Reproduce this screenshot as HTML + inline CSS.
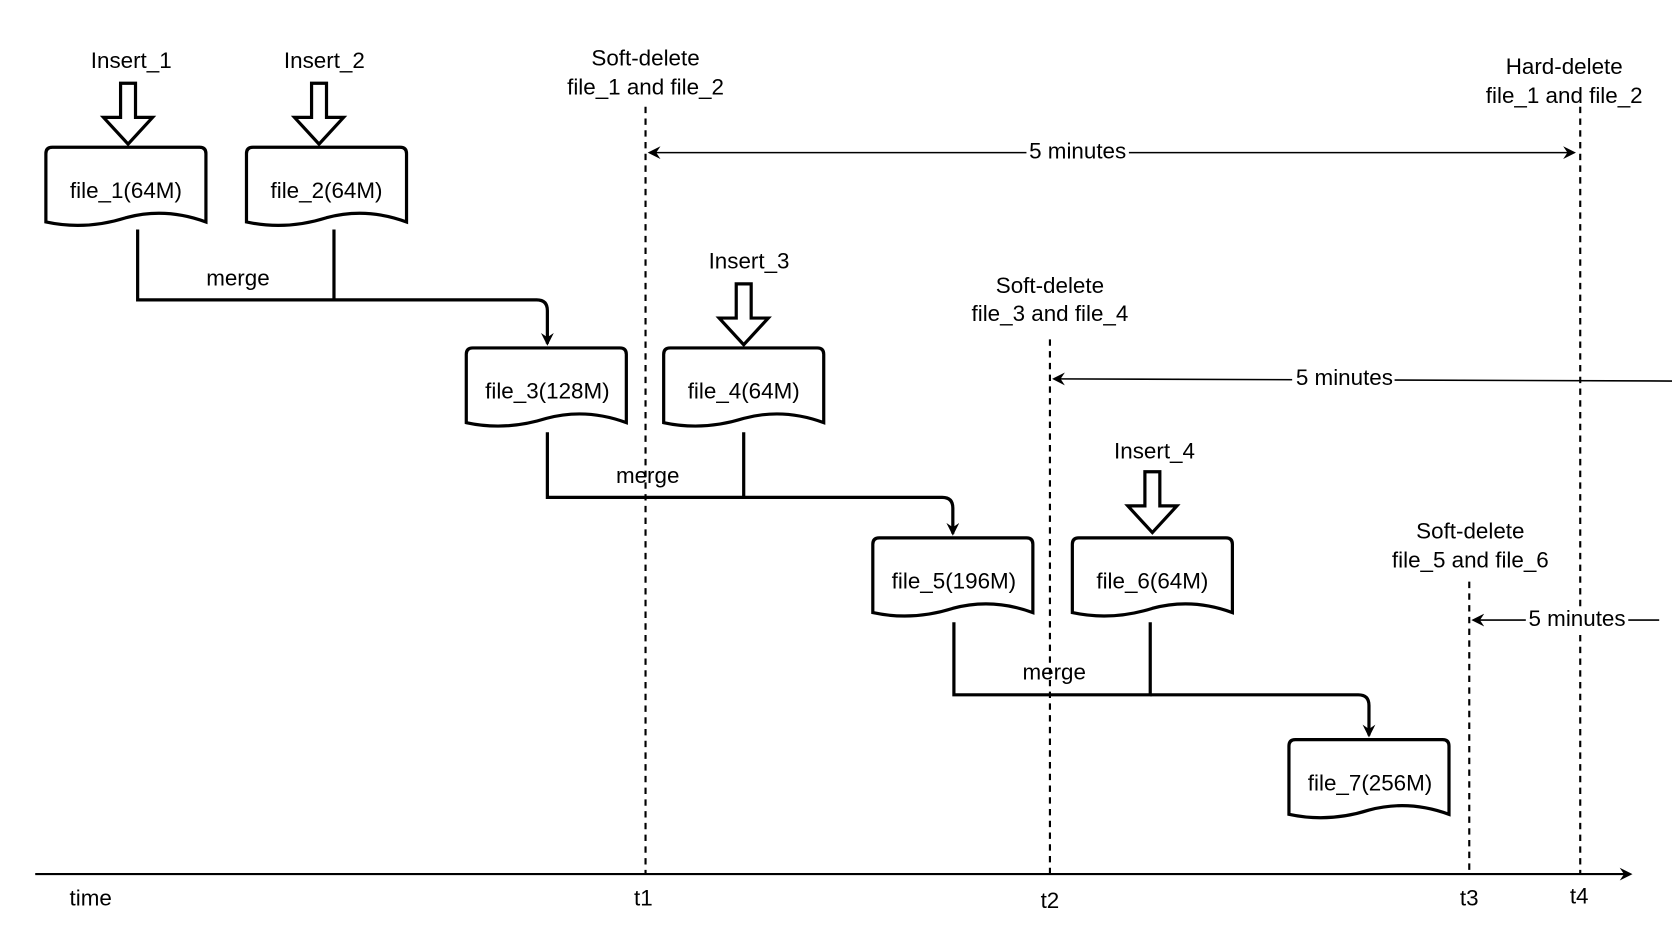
<!DOCTYPE html>
<html><head><style>body{margin:0;background:#fff}svg{display:block}text{font-family:"Liberation Sans",sans-serif;font-size:21px;fill:#000;text-anchor:middle;dominant-baseline:middle}</style></head>
<body>
<svg width="1672" height="936" viewBox="0 0 1567 877" preserveAspectRatio="none" xmlns="http://www.w3.org/2000/svg">
<defs>
<marker id="a" markerWidth="12" markerHeight="12" refX="10" refY="6" orient="auto" markerUnits="userSpaceOnUse"><path d="M0,0 L12,6 L0,12 L4,6 z" fill="#000"/></marker>
<marker id="b" markerWidth="12" markerHeight="12" refX="2" refY="6" orient="auto" markerUnits="userSpaceOnUse"><path d="M12,0 L0,6 L12,12 L8,6 z" fill="#000"/></marker>
</defs>
<g fill="#fff" stroke="#000" stroke-width="3">
<path d="M43,208 L43,144 Q43,138 49,138 L187,138 Q193,138 193,144 L193,208 Q155,194 118,204 Q80,216 43,208 Z"/>
<path d="M231,208 L231,144 Q231,138 237,138 L375,138 Q381,138 381,144 L381,208 Q343,194 306,204 Q268,216 231,208 Z"/>
<path d="M437,396 L437,332 Q437,326 443,326 L581,326 Q587,326 587,332 L587,396 Q549,382 512,392 Q474,404 437,396 Z"/>
<path d="M622,396 L622,332 Q622,326 628,326 L766,326 Q772,326 772,332 L772,396 Q734,382 697,392 Q659,404 622,396 Z"/>
<path d="M818,574 L818,510 Q818,504 824,504 L962,504 Q968,504 968,510 L968,574 Q930,560 893,570 Q855,582 818,574 Z"/>
<path d="M1005,574 L1005,510 Q1005,504 1011,504 L1149,504 Q1155,504 1155,510 L1155,574 Q1117,560 1080,570 Q1042,582 1005,574 Z"/>
<path d="M1208,763 L1208,699 Q1208,693 1214,693 L1352,693 Q1358,693 1358,699 L1358,763 Q1320,749 1283,759 Q1245,771 1208,763 Z"/>
<path d="M113,78 L127,78 L127,110 L143,110 L120,135 L97,110 L113,110 Z"/>
<path d="M292,78 L306,78 L306,110 L322,110 L299,135 L276,110 L292,110 Z"/>
<path d="M690,266 L704,266 L704,298 L720,298 L697,323 L674,298 L690,298 Z"/>
<path d="M1073,442 L1087,442 L1087,474 L1103,474 L1080,499 L1057,474 L1073,474 Z"/>
</g>
<g fill="none" stroke="#000" stroke-width="3">
<path d="M129,215 L129,281 L313,281 L313,215"/>
<path d="M313,281 L503,281 Q513,281 513,291 L513,322" marker-end="url(#a)"/>
<path d="M513,405 L513,466 L697,466 L697,405"/>
<path d="M697,466 L883,466 Q893,466 893,476 L893,500" marker-end="url(#a)"/>
<path d="M894,583 L894,651 L1078,651 L1078,583"/>
<path d="M1078,651 L1273,651 Q1283,651 1283,661 L1283,689" marker-end="url(#a)"/>
</g>
<g stroke="#000" stroke-width="2" stroke-dasharray="6,5">
<line x1="605" y1="100" x2="605" y2="818"/>
<line x1="984" y1="318" x2="984" y2="818"/>
<line x1="1377" y1="545" x2="1377" y2="818"/>
<line x1="1481" y1="100" x2="1481" y2="818"/>
</g>
<line x1="33" y1="819" x2="1528" y2="819" stroke="#000" stroke-width="2" marker-end="url(#a)"/>
<g stroke="#000" stroke-width="1.5">
<line x1="609" y1="143" x2="1475" y2="143" marker-start="url(#b)" marker-end="url(#a)"/>
<line x1="988" y1="355" x2="1567" y2="357" marker-start="url(#b)"/>
<line x1="1381" y1="581" x2="1555" y2="581" marker-start="url(#b)"/>
</g>
<g fill="#fff"><rect x="962" y="132" width="96" height="22"/><rect x="1211" y="344" width="96" height="22"/><rect x="1430" y="570" width="96" height="22"/></g>
<text x="1010" y="143">5 minutes</text>
<text x="1260" y="355">5 minutes</text>
<text x="1478" y="581">5 minutes</text>
<text x="118" y="180">file_1(64M)</text>
<text x="306" y="180">file_2(64M)</text>
<text x="513" y="368">file_3(128M)</text>
<text x="697" y="368">file_4(64M)</text>
<text x="894" y="546">file_5(196M)</text>
<text x="1080" y="546">file_6(64M)</text>
<text x="1284" y="735">file_7(256M)</text>
<text x="123" y="58">Insert_1</text>
<text x="304" y="58">Insert_2</text>
<text x="702" y="246">Insert_3</text>
<text x="1082" y="424">Insert_4</text>
<text x="223" y="262">merge</text>
<text x="607" y="447">merge</text>
<text x="988" y="631">merge</text>
<text x="605" y="56">Soft-delete</text>
<text x="605" y="83">file_1 and file_2</text>
<text x="1466" y="64">Hard-delete</text>
<text x="1466" y="91">file_1 and file_2</text>
<text x="984" y="269">Soft-delete</text>
<text x="984" y="295">file_3 and file_4</text>
<text x="1378" y="499">Soft-delete</text>
<text x="1378" y="526">file_5 and file_6</text>
<text x="85" y="843">time</text>
<text x="603" y="843">t1</text>
<text x="984" y="845">t2</text>
<text x="1377" y="843">t3</text>
<text x="1480" y="841">t4</text>
</svg>
</body></html>
